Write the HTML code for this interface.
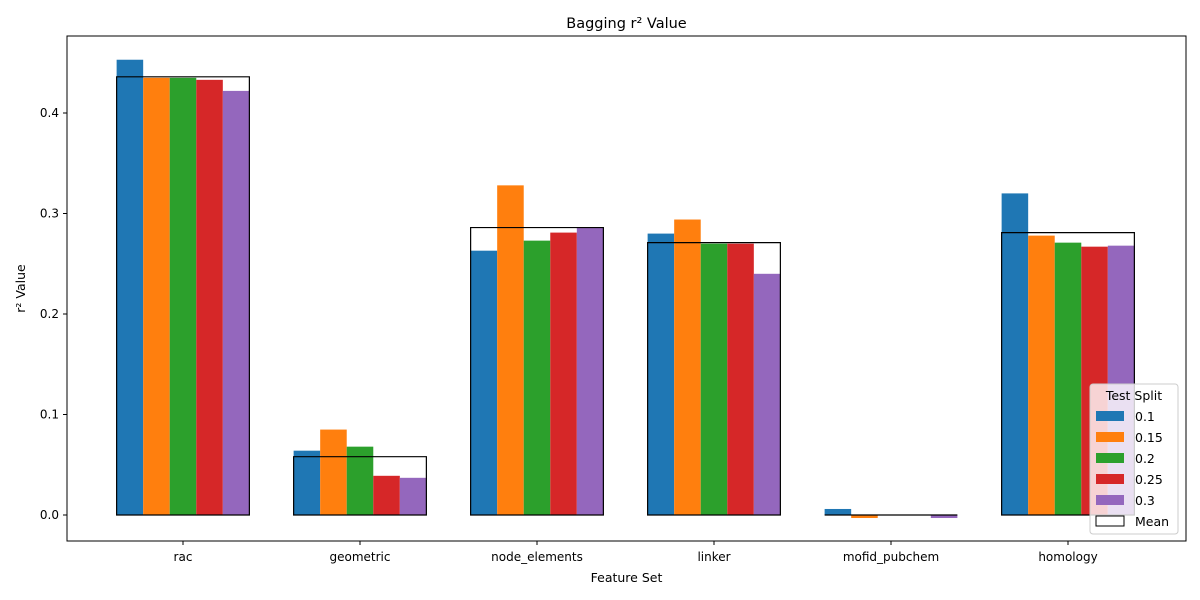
<!DOCTYPE html>
<html><head><meta charset="utf-8"><style>body{margin:0;background:#fff}svg{display:block;font-family:"DejaVu Sans","Liberation Sans",sans-serif}</style></head>
<body>
<svg id="chart" width="1200" height="600"></svg>
<script>
const categories=["rac","geometric","node_elements","linker","mofid_pubchem","homology"];
const seriesNames=["0.1","0.15","0.2","0.25","0.3"];
const s01=[0.453,0.064,0.263,0.280,0.006,0.320];
const s015=[0.435,0.085,0.328,0.294,-0.003,0.278];
const s02=[0.435,0.068,0.273,0.270,0.0,0.271];
const s025=[0.433,0.039,0.281,0.270,0.0,0.267];
const s03=[0.422,0.037,0.286,0.240,-0.003,0.268];
const meanVals=[0.436,0.058,0.286,0.271,0.0,0.281];
const yTicks=[0.0,0.1,0.2,0.3,0.4];
const colors=["#1f77b4","#ff7f0e","#2ca02c","#d62728","#9467bd"];
const series=[s01,s015,s02,s025,s03];
const NS="http://www.w3.org/2000/svg";
const svg=document.getElementById('chart');
const L=67,R=1186,T=36,B=541;
const y=v=>515-v*1005;
const step=177, x0=183;
const cx=i=>x0+i*step;
const bw=26.55;
function el(t,a,p){const e=document.createElementNS(NS,t);for(const k in a)e.setAttribute(k,a[k]);(p||svg).appendChild(e);return e;}
function tx(s,a){const e=el('text',a);e.textContent=s;return e;}
categories.forEach((c,i)=>{
  series.forEach((s,j)=>{
    const v=s[i];const x=cx(i)-2.5*bw+j*bw;
    const r=el('rect',{x:x,y:Math.min(y(v),y(0)),width:bw,height:Math.abs(y(v)-y(0)),fill:colors[j]});
    
    
  });
});
categories.forEach((c,i)=>{
  const v=meanVals[i];
  const x1=cx(i)-2.5*bw,x2=cx(i)+2.5*bw,ya=y(0),yb=y(v);
  const r=el('path',{d:`M${x1},${ya}L${x1},${yb}L${x2},${yb}L${x2},${ya}Z`,fill:'none',stroke:'#000','stroke-width':1.2});
  
  
  el('line',{x1:cx(i),x2:cx(i),y1:B,y2:B+4,stroke:'#000'});
  const t=tx(c,{x:cx(i),y:B+20,'text-anchor':'middle','font-size':12});
  
  
});
yTicks.forEach(v=>{
  el('line',{x1:L-4,x2:L,y1:y(v),y2:y(v),stroke:'#000'});
  const t=tx(v.toFixed(1),{x:L-8,y:y(v)+4,'text-anchor':'end','font-size':12});
  
  
});
el('rect',{x:L,y:T,width:R-L,height:B-T,fill:'none',stroke:'#000','stroke-width':1});
const ttl=tx('Bagging r² Value',{x:(L+R)/2,y:28,'text-anchor':'middle','font-size':14.5});

const xt=tx('Feature Set',{x:(L+R)/2,y:582,'text-anchor':'middle','font-size':12.5});

const yt=tx('r² Value',{x:25,y:(T+B)/2,'text-anchor':'middle','font-size':12.5,transform:'rotate(-90 25 '+(T+B)/2+')'});

const lg=el('g',{});

el('rect',{x:1090,y:384,width:88,height:150,rx:3,fill:'#fff','fill-opacity':0.8,stroke:'#ccc'},lg);
const lt=tx('Test Split',{x:1134,y:400,'text-anchor':'middle','font-size':12.5});lg.appendChild(lt);
seriesNames.forEach((n,j)=>{
  const yy=416+j*21;
  const g=el('g',{},lg);
  
  
  el('rect',{x:1096,y:yy-5,width:28,height:10,fill:colors[j]},g);
  const t=document.createElementNS(NS,'text');t.setAttribute('x',1135);t.setAttribute('y',yy+5);t.setAttribute('font-size',12.5);t.textContent=n;g.appendChild(t);
});
const gm=el('g',{},lg);


el('rect',{x:1096,y:516,width:28,height:10,fill:'#fff',stroke:'#000'},gm);
const mt=document.createElementNS(NS,'text');mt.setAttribute('x',1135);mt.setAttribute('y',526);mt.setAttribute('font-size',12.5);mt.textContent='Mean';gm.appendChild(mt);
</script>
</body></html>
